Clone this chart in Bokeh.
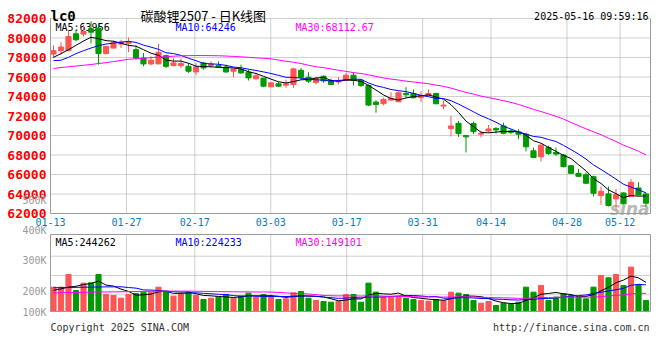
from bokeh.plotting import figure
from bokeh.models import Range1d, ColumnDataSource
from bokeh.core.properties import value
from bokeh.embed import file_html
from bokeh.resources import INLINE

# ---------------- data ----------------
date_labels = ["01-13", "01-27", "02-17", "03-03", "03-17", "03-31", "04-14", "04-28", "05-12"]
date_index = [0, 10, 19, 29, 39, 49, 58, 68, 75]

opens = [78350, 78700, 78700, 80430, 80400, 80950, 81010, 78400, 78970, 79380,
         79450, 78800, 77950, 77340, 77340, 78190, 77170, 77170, 77100, 76520,
         77440, 77170, 77170, 77030, 76590, 76760, 76490, 75810, 75880, 74990,
         75300, 75160, 75230, 76690, 75980, 75440, 76080, 75600, 75500, 75640,
         76180, 75670, 75130, 73430, 73260, 73630, 73460, 74310, 74310, 73900,
         74110, 74310, 73020, 70710, 71250, 69990, 71220, 70130, 70470, 70710,
         70980, 70470, 70370, 70130, 68430, 67820, 68770, 68260, 67990, 66900,
         66120, 65980, 65780, 63840, 64010, 63500, 64110, 63740, 64620, 64010]
highs = [79250, 79580, 80840, 80840, 81350, 81700, 81520, 79200, 79720, 79820,
         80060, 79250, 78460, 78120, 79410, 78290, 77950, 77880, 77440, 77440,
         77550, 77610, 77610, 77270, 76930, 77270, 76760, 76420, 75910, 75500,
         75500, 75740, 76930, 76930, 76490, 75980, 76180, 75840, 76000, 76420,
         76490, 75740, 75230, 73630, 73870, 74450, 74550, 74960, 74720, 74550,
         74720, 74380, 73600, 72000, 71490, 70060, 71420, 70470, 71080, 70880,
         71320, 70640, 70640, 70230, 68770, 69110, 68940, 68770, 68090, 66970,
         66560, 66220, 65880, 64760, 64760, 64520, 64180, 65540, 65200, 64080]
lows = [77950, 78290, 78650, 79650, 80160, 79450, 77270, 78350, 78900, 78970,
        78560, 77780, 77100, 77200, 77340, 76930, 77100, 76930, 76420, 76180,
        76760, 76930, 76930, 76420, 75980, 76320, 75640, 75740, 74960, 74960,
        74960, 74890, 74890, 75740, 75400, 75230, 75400, 75230, 75250, 75570,
        75130, 74990, 73020, 72340, 73090, 73530, 73460, 73870, 73800, 73400,
        74040, 73190, 72680, 69890, 69860, 68260, 70130, 69790, 70300, 70200,
        70130, 70130, 69620, 68360, 67680, 67340, 68020, 67920, 66730, 66050,
        65780, 65030, 63740, 62890, 62720, 62410, 62920, 63670, 63840, 62720]
closes = [78700, 79075, 80160, 79820, 80670, 80600, 78400, 79140, 79550, 79590,
          79590, 77950, 77340, 77720, 78530, 77100, 77440, 77380, 76590, 77030,
          76930, 77340, 77030, 76520, 76830, 76420, 75910, 76120, 75060, 75400,
          75060, 75300, 76830, 75980, 75570, 75840, 75600, 75230, 75600, 76180,
          75670, 75130, 73120, 73190, 73700, 73800, 74380, 74180, 73870, 74110,
          74310, 73260, 73120, 70980, 70200, 69860, 70400, 70230, 70670, 70570,
          70230, 70330, 70130, 68840, 67750, 69010, 68160, 68090, 66800, 66120,
          65810, 65100, 64080, 64280, 62820, 63940, 62990, 65200, 63910, 63060]

ma5 = [78020, 78400, 78800, 79250, 79690, 80070, 79930, 79730, 79670, 79460,
       79250, 79160, 78800, 78440, 78230, 77730, 77630, 77630, 77410, 77110,
       77070, 77050, 76980, 76970, 76930, 76830, 76540, 76360, 76070, 75780,
       75510, 75390, 75530, 75710, 75750, 75900, 75960, 75640, 75570, 75690,
       75660, 75560, 75140, 74660, 74160, 73790, 73640, 73850, 73990, 74070,
       74170, 73950, 73730, 73160, 72370, 71480, 70910, 70330, 70270, 70350,
       70420, 70410, 70390, 70020, 69460, 69210, 68780, 68370, 67960, 67640,
       67000, 66380, 65580, 65080, 64420, 64040, 63620, 63850, 63770, 63820]
ma10 = [77680, 77720, 78020, 78400, 78700, 78970, 79210, 79380, 79480, 79570,
        79660, 79550, 79270, 79060, 78840, 78490, 78400, 78220, 77920, 77670,
        77400, 77340, 77310, 77190, 77020, 76950, 76800, 76670, 76520, 76360,
        76170, 75970, 75950, 75890, 75770, 75710, 75680, 75590, 75640, 75720,
        75780, 75760, 75390, 75110, 74930, 74720, 74600, 74500, 74320, 74120,
        73980, 73790, 73790, 73570, 73220, 72830, 72430, 72030, 71710, 71360,
        70950, 70660, 70360, 70150, 69900, 69820, 69590, 69380, 68990, 68550,
        68100, 67580, 66980, 66520, 66030, 65520, 65000, 64710, 64430, 64120]
ma30 = [76870, 76970, 77050, 77120, 77200, 77280, 77380, 77470, 77580, 77700,
        77820, 77870, 77920, 77980, 78040, 78080, 78130, 78170, 78190, 78200,
        78200, 78190, 78180, 78150, 78110, 78070, 78020, 77960, 77920, 77860,
        77740, 77620, 77510, 77380, 77210, 77050, 76960, 76830, 76690, 76580,
        76450, 76360, 76220, 76060, 75900, 75790, 75690, 75580, 75490, 75400,
        75310, 75170, 75040, 74860, 74640, 74420, 74240, 74040, 73890, 73730,
        73570, 73400, 73180, 72940, 72680, 72460, 72210, 71970, 71680, 71340,
        71010, 70680, 70380, 70080, 69720, 69390, 69010, 68710, 68380, 68010]

volumes = [204600, 204600, 311200, 176600, 238300, 241100, 311200, 143000, 134600, 112100,
           143000, 151400, 162600, 162600, 204600, 171000, 128900, 148600, 162600, 134600,
           100900, 112100, 120500, 143000, 112100, 128900, 154200, 120500, 143000, 120500,
           100900, 106600, 157000, 168200, 112100, 92500, 84100, 78500, 84100, 143000,
           143000, 78500, 238300, 162600, 120500, 126200, 126200, 112100, 100900, 92500,
           86900, 100900, 92500, 162600, 154200, 143000, 92500, 70100, 84100, 50500,
           70100, 58900, 78500, 204600, 162600, 218700, 92500, 120500, 148600, 134600,
           120500, 106600, 204600, 302800, 283200, 311200, 218700, 372800, 227100, 92500]
vma5 = [178000, 190000, 205000, 212000, 227100, 234400, 255700, 222000, 213600, 188400,
        168800, 136800, 140700, 146300, 164800, 170400, 165900, 163100, 163100, 149100,
        135100, 131800, 126100, 122200, 117700, 123300, 131700, 131700, 131700, 133400,
        127800, 118300, 125600, 130600, 129000, 127300, 122800, 107100, 90300, 96400,
        106500, 105400, 137400, 153100, 148600, 145200, 154800, 129500, 117200, 111600,
        103700, 98700, 94700, 107100, 119400, 130600, 129000, 124500, 108800, 88000,
        73500, 66700, 68400, 92500, 114900, 144700, 151400, 159800, 148600, 143000,
        123300, 126200, 143000, 173800, 203500, 241700, 264100, 297700, 282600, 244500]
vma10 = [200000, 200000, 202000, 203000, 204000, 205000, 206000, 207000, 207000, 207700,
         201600, 196300, 181400, 180000, 176600, 169600, 151400, 151900, 154700, 157000,
         152800, 148900, 144600, 142700, 133400, 129200, 131800, 128900, 127000, 125600,
         125600, 125000, 128700, 131200, 131200, 127600, 120500, 116300, 110500, 112700,
         116900, 114100, 122200, 121700, 122500, 125900, 130100, 133500, 135100, 130100,
         124500, 126700, 112100, 112100, 115500, 117200, 113800, 109600, 107900, 103700,
         102100, 97900, 96500, 100700, 101500, 109100, 109100, 114100, 120600, 129000,
         134000, 138800, 151400, 161200, 173300, 182500, 195100, 220400, 228200, 224000]
vma30 = [157000, 158000, 159000, 160000, 161000, 162000, 163000, 164000, 165000, 166000,
         167000, 168000, 169000, 170000, 170000, 171000, 171000, 171000, 171000, 170000,
         169000, 168000, 167000, 166000, 166000, 165000, 165000, 164000, 164000, 163400,
         160000, 156700, 151600, 151300, 147100, 142100, 134600, 132400, 130700, 131800,
         131800, 129300, 131800, 131800, 129000, 127600, 127500, 126200, 124200, 122800,
         122300, 121900, 121000, 121700, 123100, 123500, 121500, 119800, 117800, 115500,
         114500, 112900, 110300, 111500, 113200, 117400, 117700, 119100, 121200, 120900,
         120200, 121100, 120000, 124700, 130100, 136300, 139300, 148000, 152200, 152200]

price_ticks = [62000, 64000, 66000, 68000, 70000, 72000, 74000, 76000, 78000, 80000, 82000]
vol_tick_labels = ["500K", "400K", "300K", "200K", "100K"]
price_ma_texts = ["MA5:63956", "MA10:64246", "MA30:68112.67"]
vol_ma_texts = ["MA5:244262", "MA10:224233", "MA30:149101"]
title_code = "lc0"
title_name = "碳酸锂2507 - 日K线图"
timestamp = "2025-05-16 09:59:16"
copyright_text = "Copyright 2025 SINA.COM"
url_text = "http://finance.sina.com.cn"
watermark = "sina"

# ---------------- styling / layout ----------------
UP = "#FF5555"
DOWN = "#009900"
MA_COLORS = ["#000000", "#0000FF", "#FF00FF"]
GRID = "#A0A0A0"
BORDER = "#9A9A9A"
MONO = "DejaVu Sans Mono"
W, H = 660, 360
LEFT, RIGHT = 50, 650            # plot area edges (px)
P_TOP, P_BOT = 18, 213           # price panel (px)
V_TOP, V_BOT = 234, 311          # volume panel (px)
SLOT = 7.5                       # px per trading day
VOL_PER_PX = 8403.0

def sx(px):          # canvas px -> day-slot coordinate
    return (px - LEFT) / SLOT - 0.4

def sp(py):          # canvas px -> price
    return price_ticks[0] + (P_BOT - py) * (price_ticks[-1] - price_ticks[0]) / (P_BOT - P_TOP)

def sv(py):          # canvas px -> volume
    return (V_BOT - py) * VOL_PER_PX

n = len(closes)
xs = list(range(n))
colors = [UP if c >= o else DOWN for o, c in zip(opens, closes)]
src = ColumnDataSource(dict(
    x=xs, o=opens, h=highs, l=lows, c=closes,
    top=[max(o, c) for o, c in zip(opens, closes)],
    bot=[min(o, c) for o, c in zip(opens, closes)],
    vol=volumes, color=colors,
))

# date gridlines: first..last trading day spread over the full panel width
tick_x = [k * n / (n - 1) - 0.4 for k in date_index]

p = figure(width=W, height=H, x_range=Range1d(sx(0), sx(W)), y_range=Range1d(sp(H), sp(0)),
           output_backend="svg", toolbar_location=None, title=None,
           x_axis_location=None, y_axis_location=None, min_border=0)
p.extra_y_ranges = {"vol": Range1d(sv(H), sv(0))}
p.outline_line_color = None
p.background_fill_color = "white"
p.border_fill_color = "white"
p.xgrid.visible = False
p.ygrid.visible = False

xl, xr = sx(LEFT), sx(RIGHT)

# ---- grids ----
p.segment(x0=[xl] * 10, x1=[xr] * 10, y0=price_ticks[1:], y1=price_ticks[1:],
          line_color=GRID, line_dash="1 1", line_width=1)
p.segment(x0=tick_x[1:], x1=tick_x[1:], y0=[price_ticks[0]] * 8, y1=[price_ticks[-1]] * 8,
          line_color=GRID, line_dash="1 1", line_width=1)
vgrid_y = [sv(255.7), sv(275), sv(294.3)]
p.segment(x0=[xl] * 3, x1=[xr] * 3, y0=vgrid_y, y1=vgrid_y,
          line_color=GRID, line_dash="1 1", line_width=1, y_range_name="vol")
p.segment(x0=tick_x[1:], x1=tick_x[1:], y0=[0] * 8, y1=[sv(V_TOP)] * 8,
          line_color=GRID, line_dash="1 1", line_width=1, y_range_name="vol")

# ---- MA legends and watermark (under the marks) ----
for k, (txt, col) in enumerate(zip(price_ma_texts, MA_COLORS)):
    p.text(x=[sx(55 + 120 * k)], y=[sp(27.3)], text=[txt], text_color=col,
           text_font=value(MONO), text_font_size="10px", text_baseline="alphabetic")
for k, (txt, col) in enumerate(zip(vol_ma_texts, MA_COLORS)):
    p.text(x=[sx(55 + 120 * k)], y=[sv(242)], text=[txt], text_color=col,
           text_font=value(MONO), text_font_size="10px", text_baseline="alphabetic",
           y_range_name="vol")
p.text(x=[sx(649)], y=[sp(208)], text=[watermark], text_color="#B8B8B8",
       text_font=value("DejaVu Sans"), text_font_style="bold italic",
       text_font_size="17px", text_align="right", text_baseline="alphabetic")

# ---- candles ----
p.segment(x0="x", y0="h", x1="x", y1="l", color="color", line_width=1, source=src)
p.vbar(x="x", width=0.68, top="top", bottom="bot", fill_color="color",
       line_color="color", line_width=1, source=src)
for ma, col in zip([ma5, ma10, ma30], MA_COLORS):
    p.line(xs, ma, line_color=col, line_width=1)

# ---- volume ----
p.vbar(x="x", width=0.68, top="vol", bottom=0, fill_color="color",
       line_color="color", line_width=1, source=src, y_range_name="vol")
for ma, col in zip([vma5, vma10, vma30], MA_COLORS):
    p.line(xs, ma, line_color=col, line_width=1, y_range_name="vol")

# ---- panel borders ----
p.segment(x0=[xl, xr, xl], x1=[xl, xr, xr],
          y0=[price_ticks[0], price_ticks[0], price_ticks[0]],
          y1=[price_ticks[-1], price_ticks[-1], price_ticks[0]],
          line_color=BORDER, line_width=1)
p.segment(x0=[xl, xr, xl, xl], x1=[xl, xr, xr, xr],
          y0=[0, 0, 0, sv(V_TOP)], y1=[sv(V_TOP), sv(V_TOP), 0, sv(V_TOP)],
          line_color=BORDER, line_width=1, y_range_name="vol")

# ---- axis tick labels ----
p.text(x=[sx(46)] * len(price_ticks), y=price_ticks, text=[str(t) for t in price_ticks],
       text_color="#FF0000", text_font=value(MONO), text_font_style="bold",
       text_font_size="13px", text_align="right", text_baseline="middle")
p.text(x=tick_x, y=[sp(221)] * len(tick_x), text=date_labels, text_color="#0080CC",
       text_font=value(MONO), text_font_size="10px", text_align="center",
       text_baseline="middle")
p.text(x=[sx(46)] * 5, y=[sv(v) for v in (200, 230, 260, 290.7, 311.7)], text=vol_tick_labels,
       text_color="#999999", text_font=value(MONO), text_font_size="10px",
       text_align="right", text_baseline="middle", y_range_name="vol")

# ---- titles / footer ----
p.text(x=[sx(50)], y=[sp(15.7)], text=[title_code], text_color="black",
       text_font=value(MONO), text_font_style="bold", text_font_size="14px",
       text_baseline="alphabetic")
p.text(x=[sx(140)], y=[sp(15)], text=[title_name], text_color="black",
       text_font=value("Noto Sans CJK SC"), text_font_size="13px",
       text_baseline="alphabetic")
p.text(x=[sx(648)], y=[sp(15.5)], text=[timestamp], text_color="black",
       text_font=value(MONO), text_font_size="10px", text_align="right",
       text_baseline="alphabetic")
p.text(x=[sx(50)], y=[sv(327)], text=[copyright_text], text_color="#333333",
       text_font=value(MONO), text_font_size="10px", text_baseline="alphabetic",
       y_range_name="vol")
p.text(x=[sx(649)], y=[sv(327)], text=[url_text], text_color="#333333",
       text_font=value(MONO), text_font_size="10px", text_align="right",
       text_baseline="alphabetic", y_range_name="vol")

open("out.html", "w").write(file_html(p, INLINE))
